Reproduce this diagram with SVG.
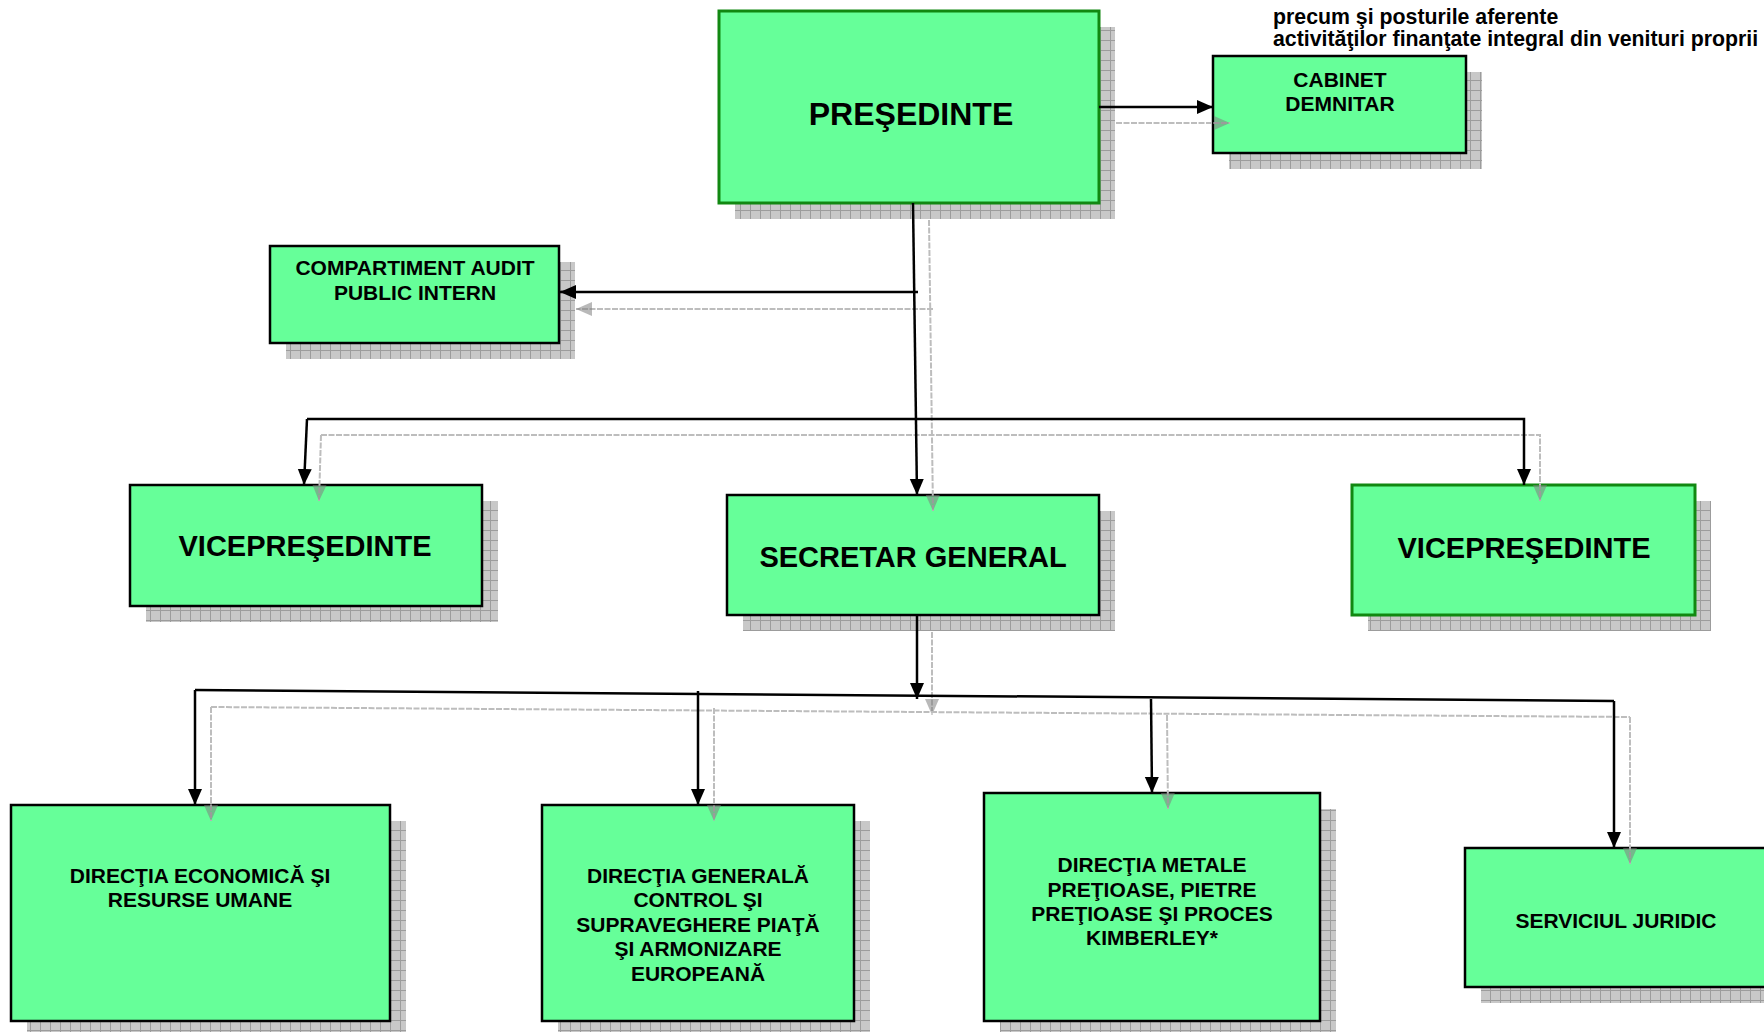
<svg xmlns="http://www.w3.org/2000/svg" width="1764" height="1032" viewBox="0 0 1764 1032">
<defs>
<pattern id="grid" width="10" height="10" patternUnits="userSpaceOnUse">
<rect width="10" height="10" fill="#c8c8c8"/>
<path d="M0 0.5H10M0.5 0V10" stroke="#9c9c9c" stroke-width="1" fill="none"/>
</pattern>
<marker id="ab" viewBox="0 0 16 16" refX="16" refY="8" markerWidth="16" markerHeight="16" markerUnits="userSpaceOnUse" orient="auto">
<path d="M0 1L16 8L0 15Z" fill="#000"/>
</marker>
<marker id="ag" viewBox="0 0 16 16" refX="16" refY="8" markerWidth="16" markerHeight="16" markerUnits="userSpaceOnUse" orient="auto">
<path d="M0 1L16 8L0 15Z" fill="#808080" fill-opacity="0.55"/>
</marker>
</defs>
<style>
.sh{fill:url(#grid)}
.bx{fill:#66ff99;stroke:#000;stroke-width:2.5}
.bg{fill:#66ff99;stroke:#118811;stroke-width:3}
.t{font-family:"Liberation Sans",Arial,sans-serif;font-weight:bold;fill:#000;text-anchor:middle}
.s{font-size:21px}
.m{font-size:29px}
.k{stroke:#000;stroke-width:2.5;fill:none}
.g{stroke:#bdbdbd;stroke-width:2;stroke-dasharray:6 1.5;fill:none}
</style>
<rect width="1764" height="1032" fill="#fff"/>

<g id="note">
<text class="t" style="text-anchor:start;font-size:21.3px" x="1273" y="24">precum şi posturile aferente</text>
<text class="t" style="text-anchor:start;font-size:21.3px" x="1273" y="46">activităţilor finanţate integral din venituri proprii</text>
</g>

<g id="shadows">
<rect class="sh" x="735" y="27" width="380" height="192"/>
<rect class="sh" x="1229" y="72" width="253" height="97"/>
<rect class="sh" x="286" y="262" width="289" height="97"/>
<rect class="sh" x="146" y="501" width="352" height="121"/>
<rect class="sh" x="743" y="511" width="372" height="120"/>
<rect class="sh" x="1368" y="501" width="343" height="130"/>
<rect class="sh" x="27" y="821" width="379" height="216"/>
<rect class="sh" x="558" y="821" width="312" height="216"/>
<rect class="sh" x="1000" y="809" width="336" height="228"/>
<rect class="sh" x="1481" y="864" width="302" height="139"/>
</g>

<g id="presedinte">
<rect class="bg" x="719" y="11" width="380" height="192"/>
<text class="t" style="font-size:32px" x="911" y="125">PREŞEDINTE</text>
</g>
<g id="cabinet">
<rect class="bx" x="1213" y="56" width="253" height="97"/>
<text class="t s" x="1340" y="87">CABINET</text>
<text class="t s" x="1340" y="111">DEMNITAR</text>
</g>
<g id="audit">
<rect class="bx" x="270" y="246" width="289" height="97"/>
<text class="t s" x="415" y="275">COMPARTIMENT AUDIT</text>
<text class="t s" x="415" y="300">PUBLIC INTERN</text>
</g>
<g id="vp1">
<rect class="bx" x="130" y="485" width="352" height="121"/>
<text class="t m" x="305" y="556">VICEPREŞEDINTE</text>
</g>
<g id="secretar">
<rect class="bx" x="727" y="495" width="372" height="120"/>
<text class="t m" x="913" y="567">SECRETAR GENERAL</text>
</g>
<g id="vp2">
<rect class="bg" x="1352" y="485" width="343" height="130"/>
<text class="t m" x="1524" y="558">VICEPREŞEDINTE</text>
</g>
<g id="dir-economica">
<rect class="bx" x="11" y="805" width="379" height="216"/>
<text class="t s" x="200" y="883">DIRECŢIA ECONOMICĂ ŞI</text>
<text class="t s" x="200" y="907">RESURSE UMANE</text>
</g>
<g id="dir-generala">
<rect class="bx" x="542" y="805" width="312" height="216"/>
<text class="t s" x="698" y="883">DIRECŢIA GENERALĂ</text>
<text class="t s" x="698" y="907">CONTROL ŞI</text>
<text class="t s" x="698" y="932">SUPRAVEGHERE PIAŢĂ</text>
<text class="t s" x="698" y="956">ŞI ARMONIZARE</text>
<text class="t s" x="698" y="981">EUROPEANĂ</text>
</g>
<g id="dir-metale">
<rect class="bx" x="984" y="793" width="336" height="228"/>
<text class="t s" x="1152" y="872">DIRECŢIA METALE</text>
<text class="t s" x="1152" y="897">PREŢIOASE, PIETRE</text>
<text class="t s" x="1152" y="921">PREŢIOASE ŞI PROCES</text>
<text class="t s" x="1152" y="945">KIMBERLEY*</text>
</g>
<g id="juridic">
<rect class="bx" x="1465" y="848" width="302" height="139"/>
<text class="t s" x="1616" y="928">SERVICIUL JURIDIC</text>
</g>

<g id="connectors">
<line class="g" x1="1116" y1="123" x2="1230" y2="123" marker-end="url(#ag)"/>
<line class="g" x1="929" y1="220" x2="933" y2="511" marker-end="url(#ag)"/>
<line class="g" x1="933" y1="309" x2="576" y2="309" marker-end="url(#ag)"/>
<polyline class="g" points="321,435 1540,435 1540,501" marker-end="url(#ag)"/>
<line class="g" x1="321" y1="435" x2="319" y2="501" marker-end="url(#ag)"/>
<line class="g" x1="932" y1="632" x2="932" y2="715" marker-end="url(#ag)"/>
<line class="g" x1="211" y1="707" x2="1630" y2="717"/>
<line class="g" x1="211" y1="707" x2="211" y2="821" marker-end="url(#ag)"/>
<line class="g" x1="714" y1="708" x2="714" y2="821" marker-end="url(#ag)"/>
<line class="g" x1="1167" y1="715" x2="1168" y2="809" marker-end="url(#ag)"/>
<line class="g" x1="1630" y1="717" x2="1630" y2="864" marker-end="url(#ag)"/>

<line class="k" x1="1099" y1="107" x2="1213" y2="107" marker-end="url(#ab)"/>
<line class="k" x1="913" y1="203" x2="917" y2="495" marker-end="url(#ab)"/>
<line class="k" x1="918" y1="292" x2="560" y2="292" marker-end="url(#ab)"/>
<polyline class="k" points="307,419 1524,419 1524,485" marker-end="url(#ab)"/>
<line class="k" x1="307" y1="419" x2="304" y2="485" marker-end="url(#ab)"/>
<line class="k" x1="917" y1="615" x2="917" y2="699" marker-end="url(#ab)"/>
<line class="k" x1="195" y1="690" x2="1614" y2="701"/>
<line class="k" x1="195" y1="690" x2="195" y2="805" marker-end="url(#ab)"/>
<line class="k" x1="698" y1="691" x2="698" y2="805" marker-end="url(#ab)"/>
<line class="k" x1="1151" y1="699" x2="1152" y2="793" marker-end="url(#ab)"/>
<line class="k" x1="1614" y1="701" x2="1614" y2="848" marker-end="url(#ab)"/>
</g>
</svg>
